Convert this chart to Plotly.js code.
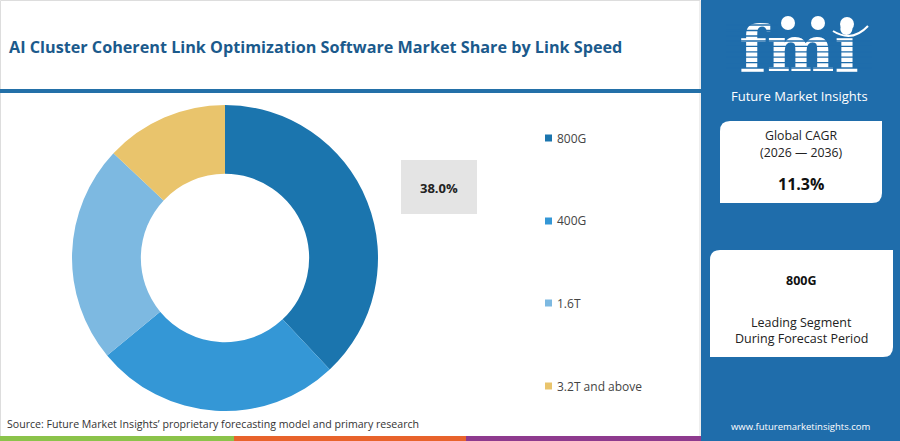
<!DOCTYPE html>
<html><head><meta charset="utf-8">
<script src="https://cdn.plot.ly/plotly-3.0.1.min.js"></script>
<style>html,body{margin:0;padding:0;background:#fff;overflow:hidden}#chart{width:900px;height:441px}</style>
</head><body><div id="chart"></div>
<script>
// ---- data ----
const categories = ['800G', '400G', '1.6T', '3.2T and above'];
const shares = [38.0, 26.0, 23.0, 13.0];
const sliceColors = ['#1b75ae', '#3497d6', '#7db9e1', '#e9c46c'];
const chartTitle = 'AI Cluster Coherent Link Optimization Software Market Share by Link Speed';
const highlightText = '38.0%';
const cagrTitle = ['Global CAGR', '(2026 \u2014 2036)'];
const cagrValue = '11.3%';
const leadingSegment = '800G';
const leadingText = ['Leading Segment', 'During Forecast Period'];
const sourceText = 'Source: Future Market Insights\u2019 proprietary forecasting model and primary research';
const siteText = 'www.futuremarketinsights.com';
const brandText = 'Future Market Insights';
const logoText = 'fmi';

// ---- helpers (pixel -> paper) ----
const W = 900, H = 441;
const X = p => p / W, Y = p => 1 - p / H;
const FONT = 'Open Sans, Lato, sans-serif';
const PANEL = '#1f6dab';

function roundedBox(x0, y0, x1, y1, r) {
  const path = `M ${X(x0)} ${Y(y0 + r)} Q ${X(x0)} ${Y(y0)} ${X(x0 + r)} ${Y(y0)} L ${X(x1)} ${Y(y0)} L ${X(x1)} ${Y(y1 - r)} Q ${X(x1)} ${Y(y1)} ${X(x1 - r)} ${Y(y1)} L ${X(x0)} ${Y(y1)} Z`;
  return {type: 'path', xref: 'paper', yref: 'paper', path: path, fillcolor: '#ffffff', line: {width: 0}, layer: 'above'};
}

const shapes = [
  {type: 'rect', xref: 'paper', yref: 'paper', x0: X(0.5), x1: X(700), y0: Y(0.5), y1: Y(440), line: {color: '#dddddd', width: 1}, fillcolor: 'rgba(0,0,0,0)', layer: 'below'},
  {type: 'rect', xref: 'paper', yref: 'paper', x0: X(0), x1: X(701), y0: Y(89), y1: Y(93), line: {width: 0}, fillcolor: '#2370a8'},
  {type: 'rect', xref: 'paper', yref: 'paper', x0: X(0), x1: X(234), y0: Y(436), y1: Y(441), line: {width: 0}, fillcolor: '#8bc34a'},
  {type: 'rect', xref: 'paper', yref: 'paper', x0: X(234), x1: X(466), y0: Y(436), y1: Y(441), line: {width: 0}, fillcolor: '#e8632b'},
  {type: 'rect', xref: 'paper', yref: 'paper', x0: X(466), x1: X(701), y0: Y(436), y1: Y(441), line: {width: 0}, fillcolor: '#8e3a8e'},
  {type: 'rect', xref: 'paper', yref: 'paper', x0: X(701), x1: X(900), y0: Y(0), y1: Y(441), line: {width: 0}, fillcolor: PANEL, layer: 'below'},
  {type: 'rect', xref: 'paper', yref: 'paper', x0: X(401), x1: X(477), y0: Y(160), y1: Y(214), line: {width: 0}, fillcolor: '#e4e4e4'},
  roundedBox(720, 121, 882, 203, 10),
  roundedBox(710, 250, 893, 357, 10),
  {type: 'circle', xref: 'paper', yref: 'paper', x0: X(781), x1: X(795), y0: Y(16), y1: Y(30), line: {width: 0}, fillcolor: '#ffffff', layer: 'above'},
  {type: 'circle', xref: 'paper', yref: 'paper', x0: X(811), x1: X(825), y0: Y(16), y1: Y(30), line: {width: 0}, fillcolor: '#ffffff', layer: 'above'},
  {type: 'circle', xref: 'paper', yref: 'paper', x0: X(840), x1: X(854), y0: Y(17), y1: Y(31), line: {width: 0}, fillcolor: '#ffffff', layer: 'above'},
  {type: 'path', xref: 'paper', yref: 'paper', path: `M ${X(833)} ${Y(31)} Q ${X(852)} ${Y(43)} ${X(868)} ${Y(26)}`, line: {color: '#ffffff', width: 2}, layer: 'above'}
];
// logo stripes
for (let yy = 41; yy <= 71; yy += 5.4) {
  shapes.push({type: 'line', xref: 'paper', yref: 'paper', x0: X(726), x1: X(872), y0: Y(yy), y1: Y(yy), line: {color: PANEL, width: 1.3}, layer: 'above'});
}
[25, 30.5, 36].forEach(yy => shapes.push({type: 'line', xref: 'paper', yref: 'paper', x0: X(726), x1: X(778), y0: Y(yy), y1: Y(yy), line: {color: PANEL, width: 1.3}, layer: 'above'}));

// legend built from the data arrays
const legendY = [138, 221, 303, 386];
categories.forEach((c, i) => {
  shapes.push({type: 'rect', xref: 'paper', yref: 'paper', x0: X(545), x1: X(552), y0: Y(legendY[i] - 3.5), y1: Y(legendY[i] + 3.5), line: {width: 0}, fillcolor: sliceColors[i]});
});

const ann = (text, x, y, size, color, anchor) => ({text: text, x: X(x), y: Y(y), xref: 'paper', yref: 'paper', xanchor: anchor || 'center', yanchor: 'middle', showarrow: false, font: {family: FONT, size: size, color: color}});
const annotations = [
  ann('<b>' + chartTitle + '</b>', 7, 47, 16.2, '#1b5a8c', 'left'),
  ann(sourceText, 5, 424, 10.6, '#333333', 'left'),
  ann('<b>' + highlightText + '</b>', 439, 188, 13, '#222222'),
  ann(brandText, 799, 96, 13, '#ffffff'),
  ann(cagrTitle[0], 801, 135, 12.3, '#222222'),
  ann(cagrTitle[1], 801, 152, 12.3, '#222222'),
  ann('<b>' + cagrValue + '</b>', 801, 184, 16, '#111111'),
  ann('<b>' + leadingSegment + '</b>', 801, 280, 12.5, '#111111'),
  ann(leadingText[0], 801, 322, 12.5, '#222222'),
  ann(leadingText[1], 801, 338, 12.5, '#222222'),
  ann(siteText, 801, 426, 9.5, '#ffffff')
];
categories.forEach((c, i) => annotations.push(ann(c, 555, legendY[i], 12, '#444444', 'left')));

const cx = 225, cy = 258, r = 153;
const pie = {
  type: 'pie',
  labels: categories,
  values: shares,
  marker: {colors: sliceColors, line: {width: 0}},
  hole: 0.55,
  sort: false,
  direction: 'clockwise',
  rotation: 0,
  textinfo: 'none',
  hoverinfo: 'label+percent',
  showlegend: false,
  domain: {x: [X(cx - r), X(cx + r)], y: [Y(cy + r), Y(cy - r)]}
};
// logo as a text mark in a hidden pixel-space subplot
const logo = {
  type: 'scatter', mode: 'text', x: [799], y: [55], text: [logoText],
  textposition: 'middle center',
  textfont: {family: 'DejaVu Serif, serif', size: 64, color: '#ffffff', weight: 'bold'},
  hoverinfo: 'skip', showlegend: false, cliponaxis: false
};

const layout = {
  width: W, height: H,
  margin: {l: 0, r: 0, t: 0, b: 0},
  paper_bgcolor: '#ffffff',
  plot_bgcolor: 'rgba(0,0,0,0)',
  showlegend: false,
  xaxis: {range: [0, W], visible: false, fixedrange: true},
  yaxis: {range: [H, 0], visible: false, fixedrange: true},
  shapes: shapes,
  annotations: annotations
};

Plotly.newPlot('chart', [pie, logo], layout, {displayModeBar: false, staticPlot: true});
</script>
</body></html>
